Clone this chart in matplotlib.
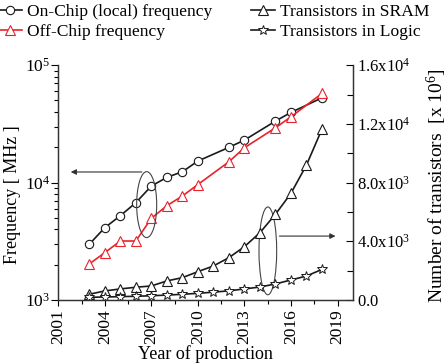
import matplotlib
matplotlib.use("Agg")
import matplotlib.pyplot as plt
from matplotlib.patches import Ellipse
from matplotlib.ticker import MultipleLocator, FixedLocator, NullFormatter, LogLocator

plt.rcParams['font.family'] = ['Liberation Serif', 'DejaVu Serif']
plt.rcParams['mathtext.fontset'] = 'custom'
plt.rcParams['mathtext.rm'] = 'Liberation Serif'

# ---------------- data ----------------
freq_years = [2003, 2004, 2005, 2006, 2007, 2008, 2009, 2010, 2012, 2013, 2015, 2016, 2018]
onchip_mhz = [2980, 4125, 5215, 6730, 9340, 11070, 12360, 15240, 19940, 22990, 33370, 39560, 52700]
offchip_mhz = [2025, 2527, 3177, 3177, 4958, 6350, 7675, 9615, 15030, 19780, 29260, 36300, 57440]

trans_years = list(range(2003, 2019))
sram_mtrans = [388, 613, 749, 865, 953, 1294, 1519, 1927, 2315, 2881, 3630, 4583, 5836, 7266, 9194, 11645]
logic_mtrans = [180, 200, 225, 250, 285, 330, 385, 450, 530, 620, 750, 880, 1090, 1360, 1630, 2080]

right_ticks = [0, 4000, 8000, 12000, 16000]
right_labels = [r'$\mathregular{0.0}$', r'$\mathregular{4.0x10^3}$', r'$\mathregular{8.0x10^3}$',
                r'$\mathregular{1.2x10^4}$', r'$\mathregular{1.6x10^4}$']
left_ticks = [1e3, 1e4, 1e5]
left_labels = [r'$\mathregular{10^3}$', r'$\mathregular{10^4}$', r'$\mathregular{10^5}$']

# ---------------- figure ----------------
fig = plt.figure(figsize=(4.48, 3.64), dpi=100)
ax = fig.add_axes([0.130, 0.176, 0.658, 0.645])
ax2 = ax.twinx()

red = '#e8232b'
dark = '#1a1a1a'
l1, = ax.plot(freq_years, onchip_mhz, color=dark, lw=1.2, marker='o', ms=6,
              mfc='white', mec=dark, mew=0.8, label='On-Chip (local) frequency')
l2, = ax.plot(freq_years, offchip_mhz, color=red, lw=1.2, marker='^', ms=7,
              mfc='white', mec=red, mew=0.8, label='Off-Chip frequency')
l3, = ax2.plot(trans_years, sram_mtrans, color=dark, lw=1.2, marker='^', ms=7,
               mfc='white', mec=dark, mew=0.8, label='Transistors in SRAM')
l4, = ax2.plot(trans_years, logic_mtrans, color=dark, lw=1.2, marker='*', ms=7,
               mfc='white', mec=dark, mew=0.7, label='Transistors in Logic')

ax.set_yscale('log')
ax.set_ylim(1e3, 1e5)
ax.set_xlim(2001, 2020)
ax2.set_ylim(0, 16000)

ax.xaxis.set_major_locator(MultipleLocator(3))
ax.xaxis.set_minor_locator(MultipleLocator(1.5))
ax.tick_params(axis='x', which='major', labelsize=12.5, rotation=90, direction='out', length=4, width=0.8, pad=3)
ax.tick_params(axis='x', which='minor', direction='out', length=3, width=0.8)

ax.yaxis.set_major_locator(FixedLocator(left_ticks))
ax.set_yticklabels(left_labels)
ax.yaxis.set_minor_locator(LogLocator(base=10, subs=range(2, 10)))
ax.yaxis.set_minor_formatter(NullFormatter())
ax.tick_params(axis='y', which='major', labelsize=12.5, direction='out', length=5, width=0.8, pad=1)
ax.tick_params(axis='y', which='minor', direction='out', length=3, width=0.8)

ax2.yaxis.set_major_locator(FixedLocator(right_ticks))
ax2.set_yticklabels(right_labels)
ax2.yaxis.set_minor_locator(MultipleLocator(2000))
ax2.tick_params(axis='y', which='major', labelsize=12, direction='in', length=5, width=0.8, pad=3)
ax2.tick_params(axis='y', which='minor', direction='in', length=4, width=0.8)

for a in (ax, ax2):
    a.spines['top'].set_visible(False)
    for s in ('left', 'right', 'bottom'):
        a.spines[s].set_linewidth(0.9)
        a.spines[s].set_color('#333333')

ax.set_xlabel('Year of production', fontsize=13, labelpad=0.5)
ax.set_ylabel('Frequency [ MHz ]', fontsize=13, labelpad=2)
ax.yaxis.set_label_coords(-0.125, 0.447)
ax2.set_ylabel(r'Number of transistors  [x $\mathregular{10^6}$]', fontsize=14, labelpad=4)
ax2.yaxis.set_label_coords(1.243, 0.485)

# annotations (ellipses + arrows)
ax.add_patch(Ellipse((0.300, 0.406), 0.068, 0.281, transform=ax.transAxes,
                     fill=False, lw=0.8, ec='#444444', zorder=5))
ax.annotate('', xy=(0.033, 0.545), xytext=(0.293, 0.545), xycoords='axes fraction',
            arrowprops=dict(arrowstyle='-|>', lw=0.8, color='#333333', mutation_scale=8))
ax.add_patch(Ellipse((0.711, 0.209), 0.060, 0.374, transform=ax.transAxes,
                     fill=False, lw=0.8, ec='#444444', zorder=5))
ax.annotate('', xy=(0.950, 0.272), xytext=(0.741, 0.272), xycoords='axes fraction',
            arrowprops=dict(arrowstyle='-|>', lw=0.8, color='#333333', mutation_scale=8))

leg_kw = dict(frameon=False, fontsize=12.6, handlelength=1.4, handletextpad=0.25,
              labelspacing=0.2, borderaxespad=0, borderpad=0)
fig.legend(handles=[l1, l2], loc='upper left', bbox_to_anchor=(-0.005, 0.99), **leg_kw)
fig.legend(handles=[l3, l4], loc='upper left', bbox_to_anchor=(0.56, 0.99), **leg_kw)

fig.savefig('out.png', dpi=100)
